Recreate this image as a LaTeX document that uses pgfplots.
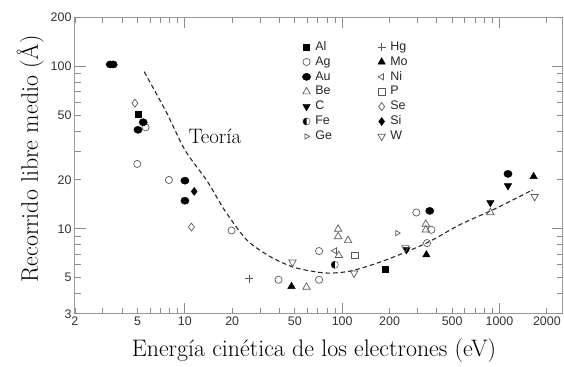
\documentclass[border=0pt]{standalone}
\usepackage{fontspec}
\usepackage{pgfplots}
\pgfplotsset{compat=1.18}
\newfontfamily\hv{Liberation Sans}

% circle with its left half filled
\pgfdeclareplotmark{halfcircle}{%
  \pgfpathcircle{\pgfpointorigin}{\pgfplotmarksize}%
  \pgfusepathqstroke
  \pgfpathmoveto{\pgfqpoint{0pt}{\pgfplotmarksize}}%
  \pgfpatharc{90}{270}{\pgfplotmarksize}%
  \pgfpathclose
  \pgfusepathqfill
}

\pgfplotsset{
  openmk/.style={only marks, draw=black!65, line width=0.7bp},
  fullmk/.style={only marks, draw=black, fill=black, line width=0.4bp},
}

\begin{document}
\begin{tikzpicture}
\begin{axis}[
  xmode=log, ymode=log,
  scale only axis, width=488bp, height=296.5bp,
  xmin=2, xmax=2520, ymin=3, ymax=200,
  axis line style={black!40, line width=1bp},
  every tick/.style={black!45, line width=0.9bp},
  major tick length=11bp, minor tick length=6bp,
  tick align=inside,
  xtick={10,100,1000}, xticklabels={10,100,1000},
  extra x ticks={2,5,20,50,200,500,2000},
  extra x tick labels={2,5,20,50,200,500,2000},
  extra x tick style={major tick length=6bp},
  minor xtick={3,4,6,7,8,9,30,40,60,70,80,90,300,400,600,700,800,900},
  ytick={10,100}, yticklabels={10,100},
  extra y ticks={3,5,20,50,200}, extra y tick labels={3,5,20,50,200},
  extra y tick style={major tick length=6bp},
  minor ytick={4,6,7,8,9,30,40,60,70,80,90},
  ticklabel style={font=\hv\fontsize{12.5}{14}\selectfont, text=black!80},
  xlabel={Energía cinética de los electrones (eV)},
  ylabel={Recorrido libre medio (Å)},
  xlabel style={font=\fontsize{24}{27}\selectfont, at={(axis description cs:0.49,-0.145)}, anchor=base},
  ylabel style={font=\fontsize{24}{27}\selectfont, at={(axis description cs:-0.076,0.523)}, anchor=base},
  legend columns=2,
  legend cell align=left,
  legend image code/.code={\draw[#1] plot coordinates {(0bp,0bp)};},
  legend style={at={(axis description cs:0.466,0.926)}, anchor=north west,
    draw=none, fill=none, inner sep=0pt,
    font=\hv\fontsize{12.5}{14}\selectfont, text=black!85,
    nodes={text height=9bp, text depth=2.5bp, inner sep=1.7bp},
    /tikz/every odd column/.append style={column sep=3bp},
    /tikz/every even column/.append style={column sep=44bp}},
]

% theoretical curve
\addplot[black!85, line width=1.1bp, dash pattern=on 4.5bp off 3bp, smooth, forget plot]
  coordinates {(5.51,92.8) (7.65,51.9) (10,30.6) (13.7,20.0) (16.3,15.1) (18.4,12.5)
    (24.7,8.56) (34.7,6.76) (48.7,5.82) (65.3,5.47) (83.4,5.34) (117,5.54)
    (191,6.45) (343,8.17) (559,10.6) (909,13.1) (1555,17.0) (1600,17.2)};

% Al
\addplot[fullmk, mark=square*, mark size=3bp] coordinates {(5.08,51.0) (189,5.66)};
\addlegendentry{Al}
% Hg
\addplot[openmk, mark=+, mark size=4bp] coordinates {(25.6,4.93)};
\addlegendentry{Hg}
% Ag
\addplot[openmk, mark=o, mark size=3.6bp] coordinates {(5.62,42.2) (4.98,25.1) (7.91,20.0)
  (19.8,9.77) (39.4,4.86) (71.3,7.30) (71.3,4.86) (296,12.6) (369,9.86) (346,8.17)};
\addlegendentry{Ag}
% Mo
\addplot[fullmk, mark=triangle*, mark size=4.3bp] coordinates {(47.6,4.42) (343,6.92) (1648,21.0)};
\addlegendentry{Mo}
% Au
\addplot[fullmk, mark=*, mark size=3.6bp, mark options={xscale=1.15}] coordinates {(3.35,102.8) (3.5,102.8)
  (5.43,45.3) (5.03,40.7) (10,19.8) (10,14.9) (360,12.9) (1132,21.8)};
\addlegendentry{Au}
% Ni
\addplot[openmk, mark=triangle, mark size=3.5bp, mark options={rotate=90}] coordinates {(89.7,7.33)};
\addlegendentry{Ni}
% Be
\addplot[openmk, mark=triangle, mark size=4.3bp] coordinates {(59.3,4.38) (94.2,9.96) (94.2,8.97)
  (109,8.48) (95.2,6.86) (340,10.7) (340,9.86) (875,12.6)};
\addlegendentry{Be}
% P
\addplot[openmk, mark=square, mark size=3.3bp] coordinates {(120,6.86)};
\addlegendentry{P}
% C
\addplot[fullmk, mark=triangle*, mark size=4.3bp, mark options={rotate=180}] coordinates {(256,7.43) (875,14.5) (1132,18.4)};
\addlegendentry{C}
% Se
\addplot[openmk, mark=diamond, mark size=4bp] coordinates {(4.81,59.4) (11.0,10.25)};
\addlegendentry{Se}
% Fe
\addplot[fullmk, draw=black!80, fill=black, mark=halfcircle, mark size=3.6bp] coordinates {(89.7,6.01)};
\addlegendentry{Fe}
% Si
\addplot[fullmk, mark=diamond*, mark size=4bp] coordinates {(11.46,17.0)};
\addlegendentry{Si}
% Ge
\addplot[openmk, mark=triangle, mark size=3bp, mark options={rotate=-90}] coordinates {(224,9.42)};
\addlegendentry{Ge}
% W
\addplot[openmk, mark=triangle, mark size=4.3bp, mark options={rotate=180}] coordinates {(48.3,6.24)
  (119,5.34) (252,7.65) (1673,15.8)};
\addlegendentry{W}

\node[font=\fontsize{21}{24}\selectfont] at (axis cs:15.5,37.3) {Teoría};
\end{axis}
\path (current axis.south west) ++(-75bp,-51bp) rectangle ++(564bp,365bp);
\end{tikzpicture}
\end{document}
